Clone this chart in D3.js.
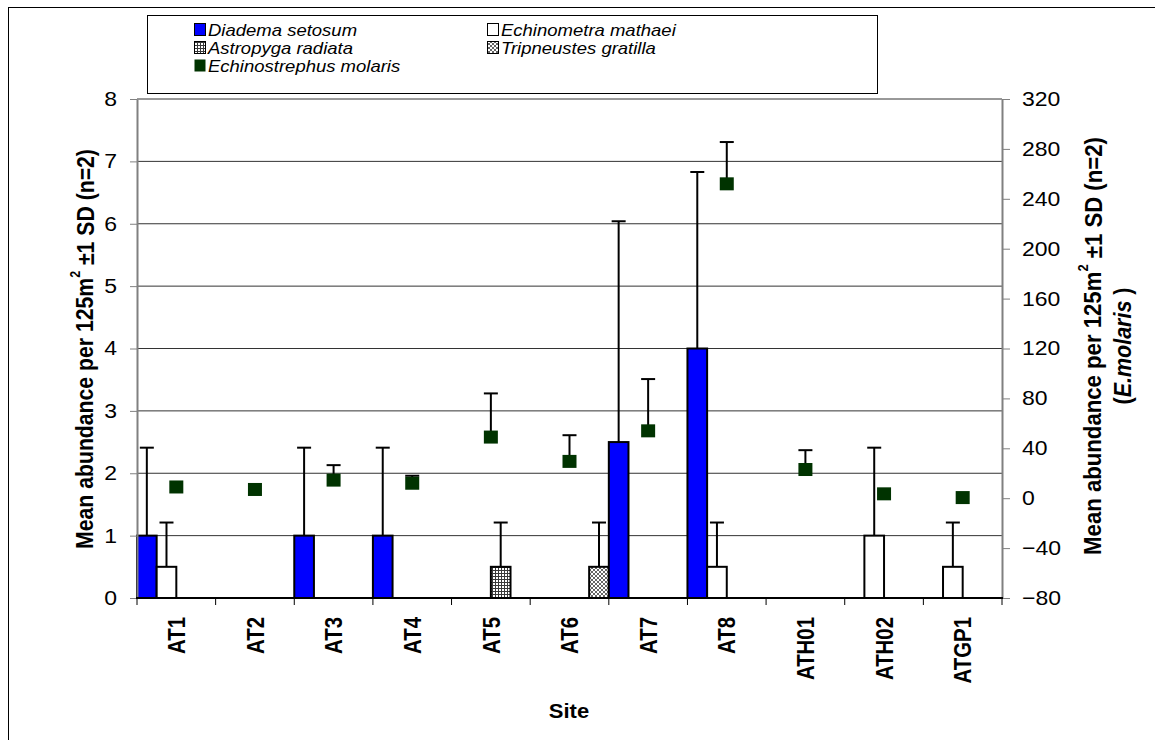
<!DOCTYPE html>
<html>
<head>
<meta charset="utf-8">
<script src="https://cdn.jsdelivr.net/npm/d3@7"></script>
<style>
  html, body { margin: 0; padding: 0; background: #fff; }
  svg { display: block; font-family: "Liberation Sans", Arial, sans-serif; }
</style>
</head>
<body>
<svg id="chart" width="1155" height="740"></svg>
<script>
// Survey sites along the x axis
const sites = ["AT1", "AT2", "AT3", "AT4", "AT5", "AT6", "AT7", "AT8", "ATH01", "ATH02", "ATGP1"];

// Bar species (left axis): mean abundance per 125 m2 and 1 SD
const barSpecies = ["Diadema setosum", "Echinometra mathaei", "Astropyga radiata", "Tripneustes gratilla"];
const diademaMean      = [1, 0, 1, 1, 0, 0, 2.5, 4, 0, 0, 0];
const diademaSD        = [1.41, 0, 1.41, 1.41, 0, 0, 3.54, 2.83, 0, 0, 0];
const echinometraMean  = [0.5, 0, 0, 0, 0, 0, 0, 0.5, 0, 1, 0.5];
const echinometraSD    = [0.71, 0, 0, 0, 0, 0, 0, 0.71, 0, 1.41, 0.71];
const astropygaMean    = [0, 0, 0, 0, 0.5, 0, 0, 0, 0, 0, 0];
const astropygaSD      = [0, 0, 0, 0, 0.71, 0, 0, 0, 0, 0, 0];
const tripneustesMean  = [0, 0, 0, 0, 0, 0.5, 0, 0, 0, 0, 0];
const tripneustesSD    = [0, 0, 0, 0, 0, 0.71, 0, 0, 0, 0, 0];

// Echinostrephus molaris (right axis)
const molarisName = "Echinostrephus molaris";
const molarisMean = [9, 7, 14.5, 12, 49, 29.5, 54, 252, 23, 3.5, 0.5];
const molarisSD   = [0, 0, 12, 6, 35, 21, 41.5, 33.5, 15.5, 0, 0];

// Axis ticks
const leftTicks  = [0, 1, 2, 3, 4, 5, 6, 7, 8];
const rightTicks = [-80, -40, 0, 40, 80, 120, 160, 200, 240, 280, 320];

const barMeans = [diademaMean, echinometraMean, astropygaMean, tripneustesMean];
const barSDs   = [diademaSD, echinometraSD, astropygaSD, tripneustesSD];

const svg = d3.select("#chart");
const W = 1155, H = 740;
const plot = { left: 137, right: 1002, top: 99, bottom: 598 };
const FONT = '"Liberation Sans", Arial, sans-serif';

// Fill patterns
const defs = svg.append("defs");
const pGrid = defs.append("pattern").attr("id", "pGrid").attr("patternUnits", "userSpaceOnUse")
  .attr("width", 3).attr("height", 3);
pGrid.append("rect").attr("width", 3).attr("height", 3).attr("fill", "#fff");
pGrid.append("path").attr("d", "M0 0.5H3M0.5 0V3").attr("stroke", "#3a3a3a").attr("stroke-width", 1);

const pDiag = defs.append("pattern").attr("id", "pDiag").attr("patternUnits", "userSpaceOnUse")
  .attr("width", 4).attr("height", 4);
pDiag.append("rect").attr("width", 4).attr("height", 4).attr("fill", "#fff");
pDiag.append("path").attr("d", "M0 0L4 4M4 0L0 4").attr("stroke", "#555").attr("stroke-width", 0.9);

const barFills = ["#0000ff", "#ffffff", "url(#pGrid)", "url(#pDiag)"];
const markerFill = "#003300";

// Outer chart frame
svg.append("rect").attr("x", 8.5).attr("y", 7.5).attr("width", W + 20).attr("height", H + 20)
  .attr("fill", "#fff").attr("stroke", "#000").attr("stroke-width", 1);

// Scales
const x0 = d3.scaleBand().domain(sites).range([plot.left, plot.right]).paddingInner(0).paddingOuter(0);
const x1 = d3.scaleBand().domain(barSpecies).range([0, x0.bandwidth()]).padding(0);
const yL = d3.scaleLinear().domain([0, 8]).range([plot.bottom, plot.top]);
const yR = d3.scaleLinear().domain([-80, 320]).range([plot.bottom, plot.top]);

// Horizontal gridlines
svg.append("g").selectAll("line").data(leftTicks.filter(v => v > 0)).join("line")
  .attr("x1", plot.left).attr("x2", plot.right)
  .attr("y1", d => yL(d)).attr("y2", d => yL(d))
  .attr("stroke", "#333").attr("stroke-width", 1);

// Bars
const barData = [];
sites.forEach((s, i) => {
  barSpecies.forEach((sp, j) => {
    barData.push({ site: s, species: sp, j, mean: barMeans[j][i], sd: barSDs[j][i] });
  });
});
const visibleBars = barData.filter(d => d.mean > 0);

svg.append("g").selectAll("rect").data(visibleBars).join("rect")
  .attr("x", d => x0(d.site) + x1(d.species))
  .attr("width", x1.bandwidth())
  .attr("y", d => yL(d.mean))
  .attr("height", d => yL(0) - yL(d.mean))
  .attr("fill", d => barFills[d.j])
  .attr("stroke", "#000").attr("stroke-width", 2);

// Bar error bars (upper only)
const capHalf = 7;
const barErr = svg.append("g").attr("stroke", "#000").attr("stroke-width", 2);
visibleBars.filter(d => d.sd > 0).forEach(d => {
  const cx = x0(d.site) + x1(d.species) + x1.bandwidth() / 2;
  barErr.append("line").attr("x1", cx).attr("x2", cx)
    .attr("y1", yL(d.mean)).attr("y2", yL(d.mean + d.sd));
  barErr.append("line").attr("x1", cx - capHalf).attr("x2", cx + capHalf)
    .attr("y1", yL(d.mean + d.sd)).attr("y2", yL(d.mean + d.sd));
});

// Echinostrephus markers with upper error bars
const molData = sites.map((s, i) => ({ site: s, mean: molarisMean[i], sd: molarisSD[i] }));
const molErr = svg.append("g").attr("stroke", "#000").attr("stroke-width", 2);
molData.filter(d => d.sd > 0).forEach(d => {
  const cx = x0(d.site) + x0.bandwidth() / 2;
  molErr.append("line").attr("x1", cx).attr("x2", cx)
    .attr("y1", yR(d.mean)).attr("y2", yR(d.mean + d.sd));
  molErr.append("line").attr("x1", cx - capHalf).attr("x2", cx + capHalf)
    .attr("y1", yR(d.mean + d.sd)).attr("y2", yR(d.mean + d.sd));
});
const mW = 14, mH = 13;
svg.append("g").selectAll("rect").data(molData).join("rect")
  .attr("x", d => x0(d.site) + x0.bandwidth() / 2 - mW / 2)
  .attr("y", d => yR(d.mean) - mH / 2)
  .attr("width", mW).attr("height", mH)
  .attr("fill", markerFill);

// Left axis
const gL = svg.append("g").attr("transform", `translate(${plot.left},0)`)
  .call(d3.axisLeft(yL).tickValues(leftTicks).tickSize(7).tickSizeOuter(0).tickPadding(13));
gL.select(".domain").attr("stroke", "#808080").attr("stroke-width", 2);
gL.selectAll(".tick line").attr("stroke", "#808080");
gL.selectAll(".tick text").attr("font-size", 23).attr("fill", "#000")
  .attr("font-family", FONT)
  .attr("transform", "scale(1,0.88)");

// Right axis
const gR = svg.append("g").attr("transform", `translate(${plot.right},0)`)
  .call(d3.axisRight(yR).tickValues(rightTicks).tickSize(8).tickSizeOuter(0).tickPadding(12));
gR.select(".domain").attr("stroke", "#808080").attr("stroke-width", 2);
gR.selectAll(".tick line").attr("stroke", "#808080");
gR.selectAll(".tick text").attr("font-size", 23).attr("fill", "#000")
  .attr("font-family", FONT)
  .attr("transform", "scale(1,0.88)");

// Bottom axis: baseline, ticks at category boundaries, rotated site labels
svg.append("line").attr("x1", plot.left - 1).attr("x2", plot.right + 1)
  .attr("y1", yL(0)).attr("y2", yL(0)).attr("stroke", "#000").attr("stroke-width", 2);
const bounds = sites.map(s => x0(s)).concat([x0.range()[1]]);
svg.append("g").selectAll("line").data(bounds).join("line")
  .attr("x1", d => d).attr("x2", d => d)
  .attr("y1", yL(0)).attr("y2", yL(0) + 7)
  .attr("stroke", "#000").attr("stroke-width", 1);

const gX = svg.append("g").attr("transform", `translate(0,${yL(0)})`)
  .call(d3.axisBottom(x0).tickSize(0).tickSizeOuter(0));
gX.select(".domain").remove();
gX.selectAll(".tick text")
  .attr("font-size", 24).attr("font-weight", "bold").attr("fill", "#000")
  .attr("font-family", FONT)
  .attr("text-anchor", "end").attr("x", 0).attr("y", 0).attr("dy", "0.36em")
  .attr("transform", "translate(0,19) rotate(-90) scale(0.85,1)");

// Fit a rotated title to a target length along its baseline
function fitRotated(textSel, cy, baseX, length) {
  const bb = textSel.node().getBBox();
  const s = length / bb.width;
  textSel.attr("transform", `translate(${baseX},${cy}) rotate(-90) scale(${s},1)`);
}

// Left axis title
const tL = svg.append("text").attr("text-anchor", "middle")
  .attr("font-size", 24).attr("font-weight", "bold").attr("fill", "#000");
tL.append("tspan").text("Mean abundance per 125m");
tL.append("tspan").attr("font-size", 14).attr("dy", "-0.9em").text("2");
tL.append("tspan").attr("dy", "0.55em").text(" \u00b11 SD (n=2)");
fitRotated(tL, 349, 93, 400);

// Right axis title
const tR1 = svg.append("text").attr("text-anchor", "middle")
  .attr("font-size", 24).attr("font-weight", "bold").attr("fill", "#000");
tR1.append("tspan").text("Mean abundance per 125m");
tR1.append("tspan").attr("font-size", 14).attr("dy", "-0.9em").text("2");
tR1.append("tspan").attr("dy", "0.55em").text(" \u00b11 SD (n=2)");
fitRotated(tR1, 346, 1101, 418);

const tR2 = svg.append("text").attr("text-anchor", "middle")
  .attr("font-size", 24).attr("font-weight", "bold").attr("fill", "#000");
tR2.append("tspan").text("(");
tR2.append("tspan").attr("font-style", "italic").text("E.molaris");
tR2.append("tspan").text(" )");
fitRotated(tR2, 346, 1131, 117);

// X axis title
svg.append("text").attr("text-anchor", "middle")
  .attr("transform", "translate(569,718) scale(1,0.88)")
  .attr("font-size", 22).attr("font-weight", "bold").attr("fill", "#000")
  .text("Site");

// Legend
const legend = svg.append("g");
legend.append("rect").attr("x", 147.5).attr("y", 15.5).attr("width", 730).attr("height", 78)
  .attr("fill", "#fff").attr("stroke", "#000").attr("stroke-width", 1);

const legendItems = [
  { name: barSpecies[0], fill: barFills[0], col: 0, row: 0 },
  { name: barSpecies[1], fill: barFills[1], col: 1, row: 0 },
  { name: barSpecies[2], fill: barFills[2], col: 0, row: 1 },
  { name: barSpecies[3], fill: barFills[3], col: 1, row: 1 },
  { name: molarisName, fill: markerFill, col: 0, row: 2, marker: true }
];
const colX = [194, 487];
const rowBase = [36, 54, 72];
const li = legend.selectAll("g.item").data(legendItems).join("g").attr("class", "item")
  .attr("transform", d => `translate(${colX[d.col]},${rowBase[d.row]})`);
li.append("rect").attr("x", 0.5).attr("y", -12.5).attr("width", 11).attr("height", 12)
  .attr("fill", d => d.fill)
  .attr("stroke", d => d.marker ? "none" : "#000").attr("stroke-width", 1);
// Labels are squeezed vertically about their baseline so the three rows fit the box
li.append("text").attr("x", 14).attr("y", 0)
  .attr("font-size", 18.5).attr("font-style", "italic").attr("fill", "#000")
  .attr("transform", "scale(1,0.86)")
  .text(d => d.name);
</script>
</body>
</html>
